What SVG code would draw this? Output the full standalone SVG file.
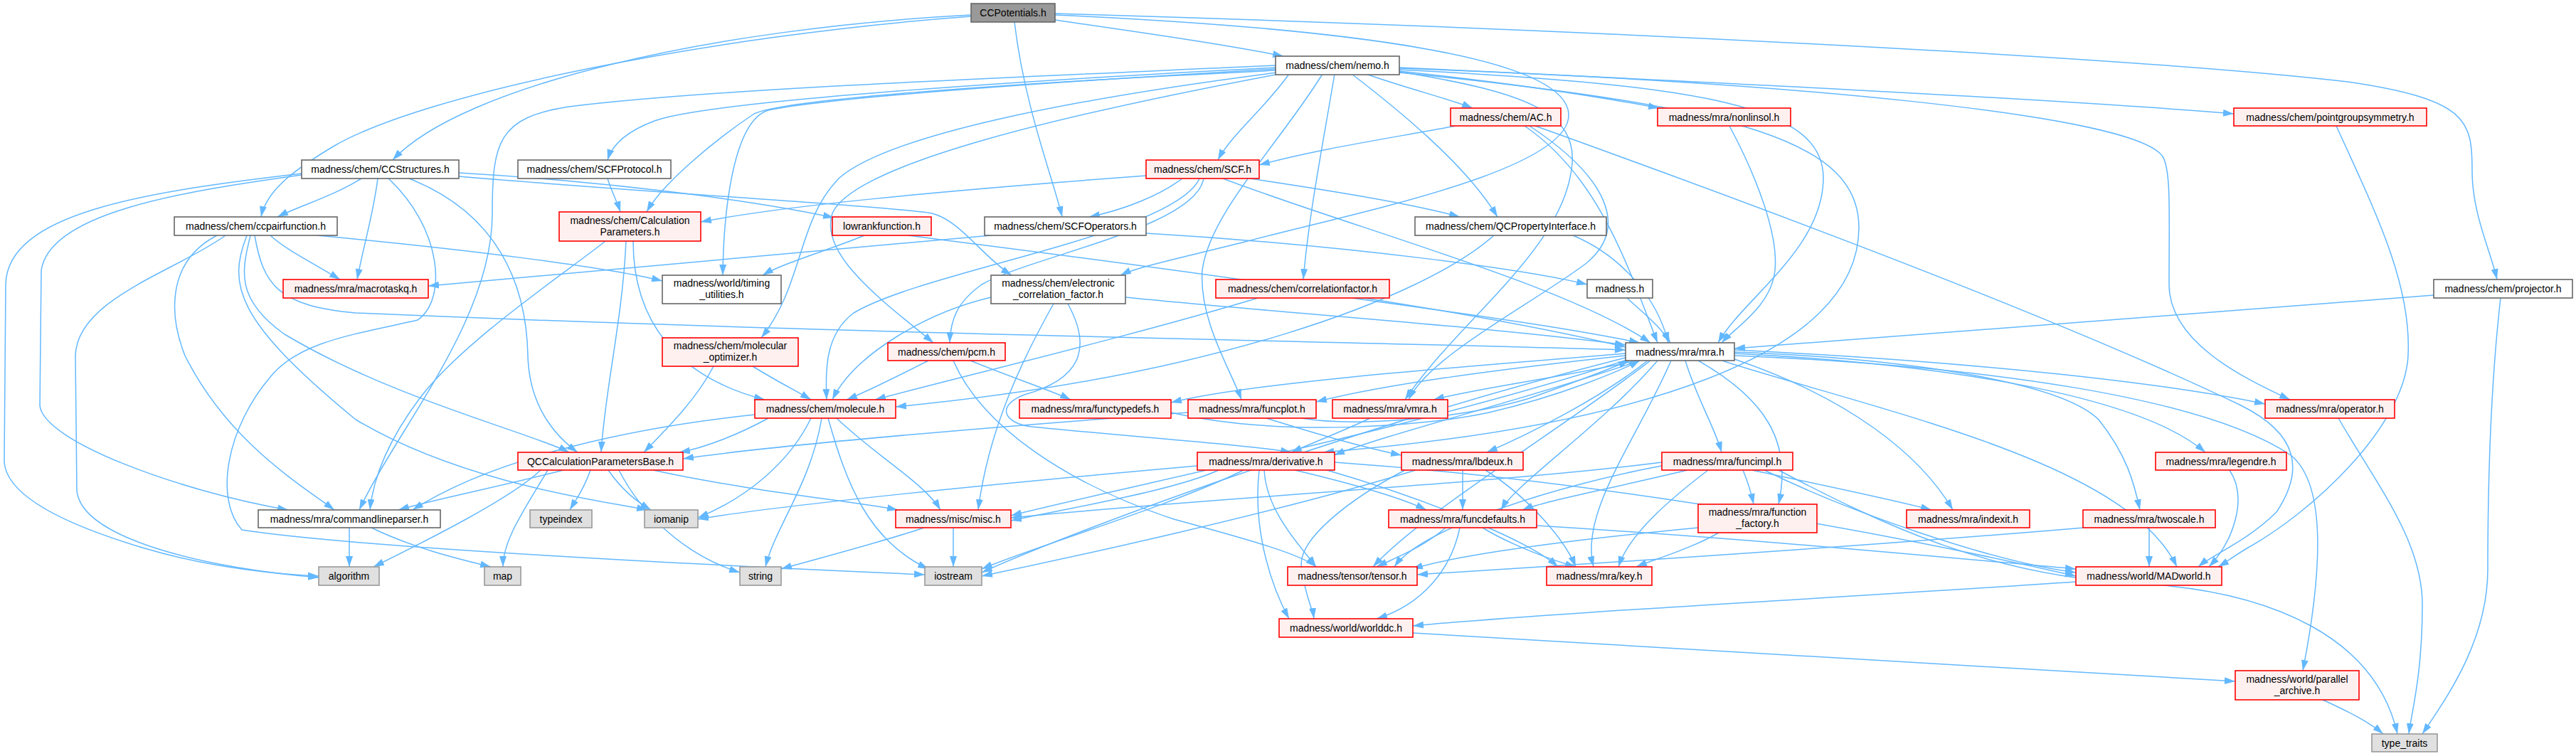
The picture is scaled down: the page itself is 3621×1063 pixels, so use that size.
<svg xmlns="http://www.w3.org/2000/svg" width="3621" height="1063" viewBox="0 0 3621 1063">
<style>
.e path{fill:none;stroke:#63b8ff;stroke-width:1.5;marker-end:url(#arr)}
.n rect{stroke-width:1.6}
.w rect{fill:#ffffff;stroke:#666666}
.r rect{fill:#fff0f0;stroke:#ff0000}
.g rect{fill:#e0e0e0;stroke:#999999}
.root rect{fill:#999999;stroke:#666666}
text{font-family:"Liberation Sans",Arial,sans-serif;font-size:14px;text-anchor:middle;fill:#000000}
</style>
<defs>
<marker id="arr" markerUnits="userSpaceOnUse" markerWidth="15" markerHeight="10" refX="15" refY="5" orient="auto"><path d="M0,0L15,5L0,10z" fill="#63b8ff"/></marker>
</defs>
<rect width="3621" height="1063" fill="#ffffff"/>
<g id="edges" class="e">
<path d="M1365,21 C1000,40 650,120 552,225"/>
<path d="M1365,23 C1000,50 600,130 470,205 C420,235 375,265 367,305"/>
<path d="M1426,31 C1440,150 1480,250 1493,305"/>
<path d="M1483,28 C1600,45 1720,62 1804,79"/>
<path d="M1483,19 C2200,40 3000,80 3300,115 C3470,140 3475,170 3475,240 C3475,300 3500,350 3510,393"/>
<path d="M1483,21 C1900,40 2200,80 2205,160 C2210,240 1900,300 1750,340 C1650,365 1600,375 1575,387"/>
<path d="M1812,104 C1780,150 1730,190 1712,225"/>
<path d="M1793,95 C1500,110 1000,140 920,170 C880,185 860,205 854,225"/>
<path d="M1793,92 C1400,110 1000,125 800,150 C700,165 692,200 692,300 C692,450 560,600 505,717"/>
<path d="M1793,97 C1400,120 1150,140 1080,155 C1030,170 1017,300 1016,387"/>
<path d="M1793,99 C1400,118 1100,140 1060,160 C1000,200 930,260 909,298"/>
<path d="M1795,102 C1500,140 1250,190 1180,250 C1120,310 1130,400 1070,475"/>
<path d="M1798,104 C1500,160 1200,230 1170,300 C1150,360 1250,430 1312,482"/>
<path d="M1920,104 C1980,125 2040,140 2070,152"/>
<path d="M1967,100 C2150,120 2270,140 2332,152"/>
<path d="M1967,95 C2400,115 2900,140 3140,160"/>
<path d="M1900,104 C1960,150 2060,230 2105,305"/>
<path d="M1876,104 C1860,200 1840,300 1832,393"/>
<path d="M1967,98 C2400,120 2563,150 2563,250 C2563,350 2450,420 2415,482"/>
<path d="M1967,101 C2150,130 2215,160 2210,230 C2200,350 2050,450 1975,562"/>
<path d="M1967,96 C2500,115 3000,160 3040,220 C3052,240 3049,300 3049,400 C3049,480 3150,530 3219,562"/>
<path d="M1859,104 C1800,200 1700,300 1690,380 C1685,450 1730,520 1745,562"/>
<path d="M1967,102 C2450,150 2613,200 2613,320 C2613,500 2300,600 1860,636"/>
<path d="M1611,247 C1300,270 1100,290 985,312"/>
<path d="M1662,251 C1630,275 1580,295 1531,305"/>
<path d="M1692,251 C1680,320 1450,360 1380,400 C1345,425 1336,450 1335,482"/>
<path d="M1686,251 C1650,330 1300,380 1200,440 C1160,470 1160,520 1162,562"/>
<path d="M1757,251 C1850,265 1980,285 2052,305"/>
<path d="M1719,251 C1900,320 2200,400 2320,482"/>
<path d="M508,251 C470,275 420,290 390,305"/>
<path d="M645,243 C850,255 1050,280 1172,306"/>
<path d="M645,248 C900,270 1250,290 1310,300 C1350,310 1380,360 1422,387"/>
<path d="M531,251 C525,300 510,350 502,393"/>
<path d="M575,251 C700,300 740,400 742,500 C744,580 790,620 812,636"/>
<path d="M546,251 C620,320 630,420 587,450 C500,470 420,480 380,530 C320,600 300,700 340,745 C500,770 1000,795 1300,808"/>
<path d="M424,246 C250,270 70,300 58,380 L56,570 C60,620 250,690 405,717"/>
<path d="M424,244 C200,270 10,300 8,400 L6,650 C10,700 100,740 200,770 C300,800 400,808 448,810"/>
<path d="M317,331 C250,380 108,420 106,500 L108,690 C115,760 300,800 448,812"/>
<path d="M305,331 C230,370 240,450 260,500 C320,620 420,680 470,717"/>
<path d="M380,331 C400,350 440,370 478,393"/>
<path d="M352,331 C340,380 330,420 400,470 C550,560 750,610 800,636"/>
<path d="M347,331 C320,400 330,450 500,590 C650,680 850,705 910,717"/>
<path d="M358,331 C370,400 390,430 500,440 C1200,470 1900,480 2285,492"/>
<path d="M446,331 C650,350 850,375 931,395"/>
<path d="M854,251 C860,270 868,285 872,298"/>
<path d="M880,339 C875,450 850,550 845,636"/>
<path d="M890,339 C890,450 950,530 1075,562"/>
<path d="M851,339 C800,380 650,480 590,560 C545,620 525,670 520,717"/>
<path d="M792,661 C700,685 620,700 560,717"/>
<path d="M760,661 C720,700 600,760 525,797"/>
<path d="M770,661 C735,720 707,760 707,797"/>
<path d="M830,661 C820,690 808,705 801,717"/>
<path d="M855,661 C875,690 895,705 915,717"/>
<path d="M870,661 C900,720 960,780 1040,805"/>
<path d="M918,661 C1050,690 1200,705 1262,717"/>
<path d="M1299,742 C1230,765 1150,785 1098,800"/>
<path d="M1340,742 L1340,797"/>
<path d="M491,742 L491,797"/>
<path d="M522,742 C580,770 640,785 690,797"/>
<path d="M1061,583 C900,600 700,640 580,717"/>
<path d="M1080,588 C1040,610 990,630 955,636"/>
<path d="M1140,588 C1110,650 1050,700 981,728"/>
<path d="M1155,588 C1140,680 1090,740 1076,797"/>
<path d="M1164,588 C1190,680 1220,760 1305,800"/>
<path d="M1176,588 C1230,640 1300,680 1322,717"/>
<path d="M1058,515 C1090,535 1120,550 1140,562"/>
<path d="M1003,515 C980,560 940,600 905,636"/>
<path d="M1305,507 C1260,530 1220,550 1190,562"/>
<path d="M1364,507 C1420,530 1480,550 1505,562"/>
<path d="M1340,507 C1380,600 1500,680 1650,730 C1760,760 1830,780 1850,797"/>
<path d="M1393,418 C1300,440 1200,500 1170,562"/>
<path d="M1582,418 C1800,440 2100,460 2285,485"/>
<path d="M1481,427 C1440,500 1390,600 1375,717"/>
<path d="M1501,427 C1530,480 1530,530 1440,555 C1400,570 1410,595 1450,600 C1600,615 1750,625 1815,636"/>
<path d="M1768,419 C1600,470 1350,530 1230,562"/>
<path d="M1900,419 C2050,440 2200,460 2305,482"/>
<path d="M1215,331 C1170,350 1100,370 1072,387"/>
<path d="M1276,331 C1500,360 2000,420 2285,488"/>
<path d="M1393,331 C1200,350 900,375 602,402"/>
<path d="M1611,328 C1900,345 2150,380 2231,400"/>
<path d="M2287,419 C2310,440 2335,460 2348,482"/>
<path d="M2046,177 C1950,195 1850,210 1770,232"/>
<path d="M2143,177 C2250,250 2290,380 2330,482"/>
<path d="M2158,177 C2500,300 2900,450 3150,570 C3230,610 3240,660 3200,720 C3160,760 3110,780 3090,797"/>
<path d="M2150,177 C2260,250 2290,320 2230,370 C2150,430 2010,500 1980,562"/>
<path d="M2431,177 C2470,250 2500,330 2495,380 C2490,430 2440,460 2420,482"/>
<path d="M2211,331 C2280,360 2330,420 2345,482"/>
<path d="M2100,331 C2000,420 1700,530 1259,572"/>
<path d="M3284,177 C3340,300 3390,400 3385,500 C3380,600 3250,720 3160,770 C3140,782 3130,790 3118,797"/>
<path d="M3421,415 C3100,440 2700,470 2438,490"/>
<path d="M3515,419 C3500,550 3497,700 3497,800 C3497,900 3440,980 3405,1032"/>
<path d="M2285,500 C2100,520 1950,540 1850,565"/>
<path d="M2300,507 C2200,530 2080,545 2015,562"/>
<path d="M1830,588 C1900,600 2050,590 2150,560 C2220,535 2260,520 2290,507"/>
<path d="M1646,580 C1800,615 2000,600 2093,580 C2200,555 2280,520 2305,507"/>
<path d="M2305,507 C2150,560 1950,610 1875,640"/>
<path d="M2316,507 C2250,560 2150,610 2090,636"/>
<path d="M2369,507 C2385,560 2410,600 2420,636"/>
<path d="M2387,507 C2480,560 2520,620 2500,709"/>
<path d="M2438,492 C2800,510 3050,540 3184,568"/>
<path d="M2438,497 C2700,510 3000,550 3100,636"/>
<path d="M2438,495 C2700,505 2900,540 2950,590 C2990,640 3000,680 3008,717"/>
<path d="M2438,505 C2600,560 2700,640 2745,717"/>
<path d="M2438,500 C2800,515 3100,560 3220,640 C3270,680 3265,800 3237,943"/>
<path d="M2330,507 C2250,600 2130,680 2110,717"/>
<path d="M2320,507 C2200,600 2000,720 1930,797"/>
<path d="M2349,507 C2300,620 2220,720 2240,797"/>
<path d="M2290,505 C2000,600 1600,680 1421,725"/>
<path d="M2285,503 C1900,600 1500,750 1380,805"/>
<path d="M2285,497 C2000,520 1750,540 1646,566"/>
<path d="M2420,507 C2650,580 2990,650 3060,797"/>
<path d="M2500,661 C2650,740 2800,810 3000,820 C3200,830 3340,900 3370,1032"/>
<path d="M2450,661 C2458,680 2462,695 2465,709"/>
<path d="M2336,655 C2200,680 2000,740 1960,797"/>
<path d="M2372,661 C2250,690 2170,705 2140,717"/>
<path d="M2401,661 C2350,700 2290,750 2275,797"/>
<path d="M2463,661 C2550,680 2650,700 2715,717"/>
<path d="M2480,661 C2600,720 2800,790 2918,805"/>
<path d="M2336,650 C2100,680 1700,700 1421,728"/>
<path d="M2056,661 L2056,717"/>
<path d="M2088,661 C2150,700 2200,760 2215,797"/>
<path d="M1975,661 C1900,700 1820,760 1830,800 C1835,840 1845,855 1847,870"/>
<path d="M1990,661 C1800,720 1500,785 1380,810"/>
<path d="M1683,655 C1400,680 1100,710 981,730"/>
<path d="M1713,661 C1650,690 1500,715 1421,732"/>
<path d="M1748,661 C1650,710 1450,770 1380,800"/>
<path d="M1820,661 C1900,680 1970,700 2005,717"/>
<path d="M1865,661 C2000,700 2150,760 2190,797"/>
<path d="M1777,661 C1780,720 1830,770 1850,797"/>
<path d="M1770,661 C1760,750 1790,830 1812,870"/>
<path d="M1876,650 C2300,680 2700,760 2918,810"/>
<path d="M1926,588 C1890,605 1840,625 1815,636"/>
<path d="M1670,580 C1400,600 1100,625 960,645"/>
<path d="M1780,588 C1850,610 1920,630 1970,640"/>
<path d="M2387,742 C2200,760 2050,780 1985,800"/>
<path d="M2416,749 C2380,770 2330,785 2300,797"/>
<path d="M2032,742 C2000,770 1960,785 1935,797"/>
<path d="M2084,742 C2130,770 2190,790 2215,797"/>
<path d="M2052,742 C2040,800 2000,850 1935,870"/>
<path d="M2160,739 C2500,760 2800,790 2918,800"/>
<path d="M3021,742 L3021,797"/>
<path d="M2929,742 C2600,770 2200,795 1992,808"/>
<path d="M3134,661 C3160,700 3140,760 3105,797"/>
<path d="M3287,588 C3340,680 3405,760 3405,850 C3405,950 3390,1000 3386,1032"/>
<path d="M2918,818 C2600,840 2200,860 1986,880"/>
<path d="M1986,890 C2500,920 2900,945 3142,958"/>
<path d="M3265,984 C3300,1000 3330,1015 3350,1032"/>
</g>
<g id="node-CCPotentials" class="n root"><rect x="1365" y="5" width="118" height="26"/><text x="1424" y="23">CCPotentials.h</text></g>
<g id="node-nemo" class="n w"><rect x="1793" y="79" width="174" height="26"/><text x="1880" y="97">madness/chem/nemo.h</text></g>
<g id="node-CCStructures" class="n w"><rect x="424" y="225" width="221" height="26"/><text x="534.5" y="243">madness/chem/CCStructures.h</text></g>
<g id="node-SCFProtocol" class="n w"><rect x="728" y="225" width="215" height="26"/><text x="835.5" y="243">madness/chem/SCFProtocol.h</text></g>
<g id="node-ccpairfunction" class="n w"><rect x="245" y="305" width="229" height="26"/><text x="359.5" y="323">madness/chem/ccpairfunction.h</text></g>
<g id="node-CalculationParameters" class="n r"><rect x="786" y="298" width="199" height="41"/><text x="885.5" y="315">madness/chem/Calculation</text><text x="885.5" y="331">Parameters.h</text></g>
<g id="node-SCF" class="n r"><rect x="1611" y="225" width="159" height="26"/><text x="1690.5" y="243">madness/chem/SCF.h</text></g>
<g id="node-lowrankfunction" class="n r"><rect x="1170" y="305" width="139" height="26"/><text x="1239.5" y="323">lowrankfunction.h</text></g>
<g id="node-SCFOperators" class="n w"><rect x="1384" y="305" width="227" height="26"/><text x="1497.5" y="323">madness/chem/SCFOperators.h</text></g>
<g id="node-AC" class="n r"><rect x="2039" y="152" width="155" height="25"/><text x="2116.5" y="170">madness/chem/AC.h</text></g>
<g id="node-nonlinsol" class="n r"><rect x="2330" y="152" width="187" height="25"/><text x="2423.5" y="170">madness/mra/nonlinsol.h</text></g>
<g id="node-QCPropertyInterface" class="n w"><rect x="1989" y="305" width="269" height="26"/><text x="2123.5" y="323">madness/chem/QCPropertyInterface.h</text></g>
<g id="node-pointgroupsymmetry" class="n r"><rect x="3140" y="152" width="271" height="25"/><text x="3275.5" y="170">madness/chem/pointgroupsymmetry.h</text></g>
<g id="node-macrotaskq" class="n r"><rect x="398" y="393" width="204" height="26"/><text x="500" y="411">madness/mra/macrotaskq.h</text></g>
<g id="node-QCCalculationParametersBase" class="n r"><rect x="728" y="636" width="232" height="25"/><text x="844" y="654">QCCalculationParametersBase.h</text></g>
<g id="node-timing_utilities" class="n w"><rect x="931" y="387" width="167" height="40"/><text x="1014.5" y="403">madness/world/timing</text><text x="1014.5" y="419">_utilities.h</text></g>
<g id="node-electronic_correlation_factor" class="n w"><rect x="1393" y="387" width="189" height="40"/><text x="1487.5" y="403">madness/chem/electronic</text><text x="1487.5" y="419">_correlation_factor.h</text></g>
<g id="node-correlationfactor" class="n r"><rect x="1709" y="393" width="244" height="26"/><text x="1831" y="411">madness/chem/correlationfactor.h</text></g>
<g id="node-molecular_optimizer" class="n r"><rect x="931" y="475" width="191" height="40"/><text x="1026.5" y="491">madness/chem/molecular</text><text x="1026.5" y="507">_optimizer.h</text></g>
<g id="node-pcm" class="n r"><rect x="1248" y="482" width="165" height="25"/><text x="1330.5" y="500">madness/chem/pcm.h</text></g>
<g id="node-molecule" class="n r"><rect x="1061" y="562" width="198" height="26"/><text x="1160" y="580">madness/chem/molecule.h</text></g>
<g id="node-functypedefs" class="n r"><rect x="1433" y="562" width="213" height="26"/><text x="1539.5" y="580">madness/mra/functypedefs.h</text></g>
<g id="node-funcplot" class="n r"><rect x="1670" y="562" width="180" height="26"/><text x="1760" y="580">madness/mra/funcplot.h</text></g>
<g id="node-derivative" class="n r"><rect x="1683" y="636" width="193" height="25"/><text x="1779.5" y="654">madness/mra/derivative.h</text></g>
<g id="node-madness" class="n w"><rect x="2231" y="393" width="92" height="26"/><text x="2277" y="411">madness.h</text></g>
<g id="node-mra" class="n w"><rect x="2285" y="482" width="153" height="25"/><text x="2361.5" y="500">madness/mra/mra.h</text></g>
<g id="node-vmra" class="n r"><rect x="1873" y="562" width="162" height="26"/><text x="1954" y="580">madness/mra/vmra.h</text></g>
<g id="node-lbdeux" class="n r"><rect x="1970" y="636" width="171" height="25"/><text x="2055.5" y="654">madness/mra/lbdeux.h</text></g>
<g id="node-funcimpl" class="n r"><rect x="2336" y="636" width="184" height="25"/><text x="2428" y="654">madness/mra/funcimpl.h</text></g>
<g id="node-projector" class="n w"><rect x="3421" y="393" width="195" height="26"/><text x="3518.5" y="411">madness/chem/projector.h</text></g>
<g id="node-operator" class="n r"><rect x="3184" y="562" width="182" height="26"/><text x="3275" y="580">madness/mra/operator.h</text></g>
<g id="node-legendre" class="n r"><rect x="3030" y="636" width="184" height="25"/><text x="3122" y="654">madness/mra/legendre.h</text></g>
<g id="node-commandlineparser" class="n w"><rect x="363" y="717" width="256" height="25"/><text x="491" y="735">madness/mra/commandlineparser.h</text></g>
<g id="node-algorithm" class="n g"><rect x="448" y="797" width="85" height="26"/><text x="490.5" y="815">algorithm</text></g>
<g id="node-map" class="n g"><rect x="681" y="797" width="51" height="26"/><text x="706.5" y="815">map</text></g>
<g id="node-typeindex" class="n g"><rect x="745" y="717" width="87" height="25"/><text x="788.5" y="735">typeindex</text></g>
<g id="node-iomanip" class="n g"><rect x="906" y="717" width="75" height="25"/><text x="943.5" y="735">iomanip</text></g>
<g id="node-string" class="n g"><rect x="1040" y="797" width="58" height="26"/><text x="1069" y="815">string</text></g>
<g id="node-iostream" class="n g"><rect x="1300" y="797" width="80" height="26"/><text x="1340" y="815">iostream</text></g>
<g id="node-misc" class="n r"><rect x="1259" y="717" width="162" height="25"/><text x="1340" y="735">madness/misc/misc.h</text></g>
<g id="node-tensor" class="n r"><rect x="1810" y="797" width="182" height="26"/><text x="1901" y="815">madness/tensor/tensor.h</text></g>
<g id="node-worlddc" class="n r"><rect x="1798" y="870" width="188" height="26"/><text x="1892" y="888">madness/world/worlddc.h</text></g>
<g id="node-funcdefaults" class="n r"><rect x="1952" y="717" width="208" height="25"/><text x="2056" y="735">madness/mra/funcdefaults.h</text></g>
<g id="node-key" class="n r"><rect x="2174" y="797" width="148" height="26"/><text x="2248" y="815">madness/mra/key.h</text></g>
<g id="node-function_factory" class="n r"><rect x="2387" y="709" width="167" height="40"/><text x="2470.5" y="725">madness/mra/function</text><text x="2470.5" y="741">_factory.h</text></g>
<g id="node-indexit" class="n r"><rect x="2680" y="717" width="173" height="25"/><text x="2766.5" y="735">madness/mra/indexit.h</text></g>
<g id="node-twoscale" class="n r"><rect x="2928" y="717" width="186" height="25"/><text x="3021" y="735">madness/mra/twoscale.h</text></g>
<g id="node-MADworld" class="n r"><rect x="2918" y="797" width="205" height="26"/><text x="3020.5" y="815">madness/world/MADworld.h</text></g>
<g id="node-parallel_archive" class="n r"><rect x="3142" y="943" width="174" height="41"/><text x="3229" y="960">madness/world/parallel</text><text x="3229" y="976">_archive.h</text></g>
<g id="node-type_traits" class="n g"><rect x="3334" y="1032" width="92" height="25"/><text x="3380" y="1050">type_traits</text></g>
</svg>
